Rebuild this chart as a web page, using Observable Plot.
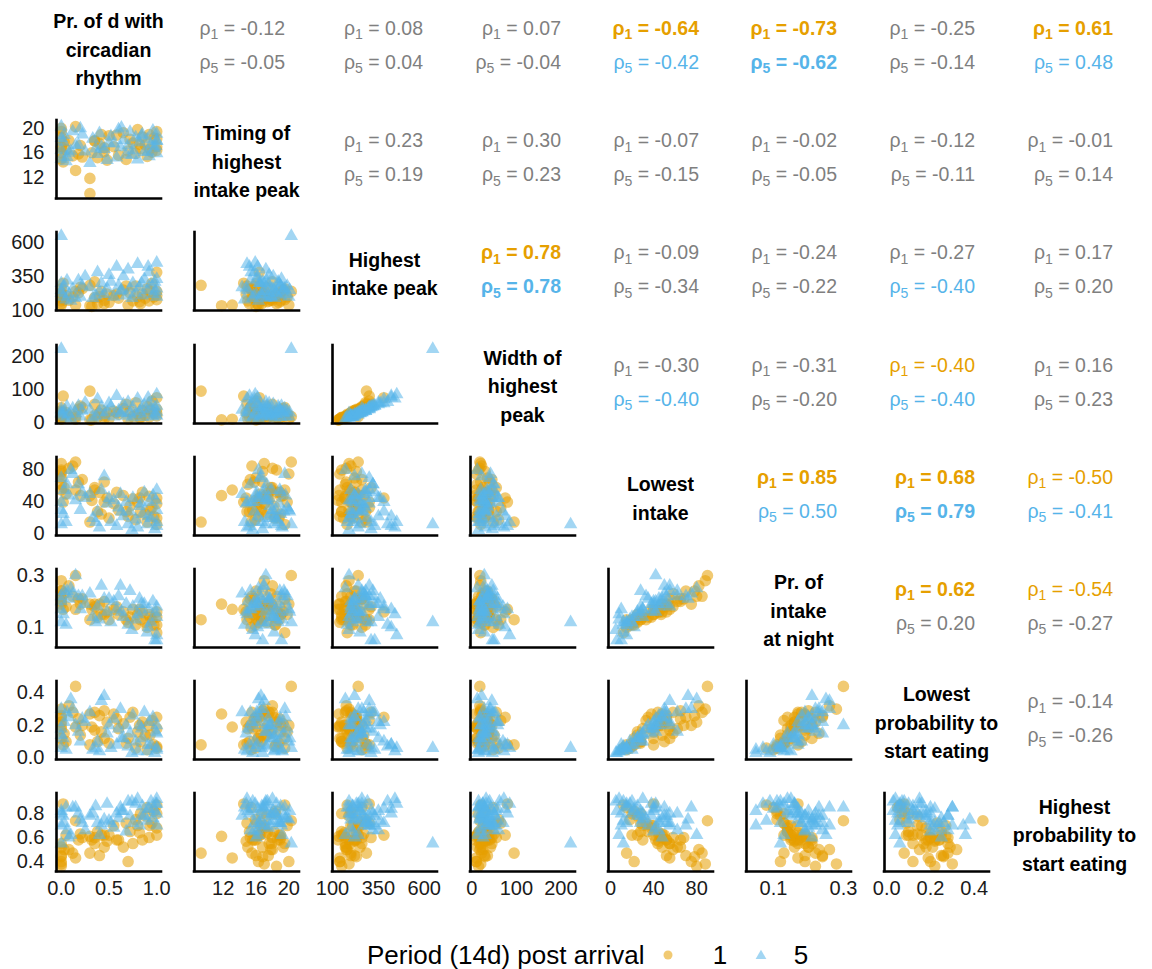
<!DOCTYPE html>
<html>
<head>
<meta charset="utf-8">
<script src="https://cdn.jsdelivr.net/npm/d3@7"></script>
<script src="https://cdn.jsdelivr.net/npm/@observablehq/plot@0.6"></script>
<style>
  body { margin: 0; background: #fff; font-family: "Liberation Sans", Arial, sans-serif; }
  #chart { position: relative; width: 1152px; height: 969px; overflow: hidden; background: #fff; }
  .diag { position: absolute; display: flex; flex-direction: column; justify-content: center; align-items: center;
          text-align: center; font-weight: bold; font-size: 19.5px; line-height: 28.5px; color: #000; white-space: nowrap; }
  .rho { position: absolute; text-align: right; font-size: 19.5px; line-height: 30px; height: 30px; white-space: nowrap; }
  .rho .sub { font-size: 0.72em; position: relative; top: 0.32em; }
  .legend { position: absolute; font-size: 26px; line-height: 30px; color: #000; white-space: nowrap; }
</style>
</head>
<body>
<div id="chart"></div>
<script>
// ---- Variables shown on the diagonal -------------------------------------
const varLabels = [
  ["Pr. of d with", "circadian", "rhythm"],
  ["Timing of", "highest", "intake peak"],
  ["Highest", "intake peak"],
  ["Width of", "highest", "peak"],
  ["Lowest", "intake"],
  ["Pr. of", "intake", "at night"],
  ["Lowest", "probability to", "start eating"],
  ["Highest", "probability to", "start eating"]
];

// ---- Period 1 observations (one value per animal) -------------------------
const circ1   = [0.00,0.00,0.00,0.00,0.00,0.00,0.02,0.03,0.05,0.12,0.15,0.15,0.18,0.20,0.30,0.30,0.32,0.35,0.38,0.40,0.42,0.45,0.48,0.50,0.55,0.60,0.65,0.70,0.72,0.75,0.78,0.80,0.83,0.85,0.88,0.90,0.92,0.95,0.97,1.00,1.00,1.00,
                 0.00,0.08,0.22,0.35,0.45,0.58,0.68,0.82,0.93,1.00];
const timing1 = [17.0,18.5,16.0,15.0,19.5,20.0,14.5,17.8,16.5,15.5,20.3,13.1,15.8,17.2,9.3,11.8,16.0,18.0,15.2,17.5,19.0,16.8,14.8,18.8,17.0,15.6,19.3,16.3,18.2,17.6,15.9,19.8,16.7,18.6,17.3,15.4,19.0,16.1,18.4,17.0,19.5,16.4,
                 16.8,18.0,15.3,17.9,16.2,18.9,14.9,17.4,16.6,18.3];
const peak1   = [190,150,220,170,260,140,300,180,210,200,240,140,230,270,285,135,130,310,150,200,240,175,220,160,210,190,250,140,230,170,280,200,150,220,190,260,170,300,200,240,180,380,
                 230,175,260,195,150,220,280,165,240,210];
const width1  = [20,15,35,12,45,10,80,25,30,22,18,10,40,50,95,8,8,55,16,28,38,20,30,12,35,25,42,10,33,18,60,26,14,36,22,48,16,65,30,40,20,75,
                 30,18,45,22,12,30,55,15,38,28];
const low1    = [88,80,70,62,55,75,40,58,50,85,90,55,65,48,15,48,42,58,28,52,25,65,45,20,38,30,48,22,35,44,18,40,28,52,25,15,47,33,22,38,12,45,
                 78,82,68,55,40,52,28,45,30,20];
const night1  = [0.28,0.22,0.24,0.20,0.21,0.19,0.17,0.23,0.18,0.22,0.30,0.17,0.21,0.19,0.13,0.19,0.17,0.18,0.14,0.19,0.15,0.20,0.16,0.13,0.17,0.15,0.16,0.12,0.14,0.17,0.11,0.15,0.13,0.16,0.12,0.10,0.15,0.13,0.11,0.14,0.08,0.16,
                 0.24,0.26,0.21,0.19,0.15,0.18,0.13,0.17,0.14,0.11];
const lowp1   = [0.30,0.22,0.25,0.18,0.12,0.20,0.08,0.15,0.10,0.28,0.44,0.19,0.24,0.14,0.08,0.27,0.19,0.28,0.10,0.26,0.16,0.29,0.22,0.09,0.27,0.18,0.21,0.12,0.25,0.28,0.06,0.16,0.10,0.22,0.14,0.05,0.20,0.23,0.08,0.18,0.06,0.25,
                 0.26,0.32,0.20,0.17,0.12,0.24,0.09,0.20,0.14,0.07];
const highp1  = [0.38,0.36,0.45,0.52,0.55,0.40,0.88,0.50,0.62,0.47,0.74,0.43,0.58,0.63,0.47,0.61,0.58,0.60,0.65,0.45,0.62,0.52,0.57,0.62,0.70,0.58,0.52,0.40,0.65,0.55,0.75,0.70,0.80,0.58,0.78,0.85,0.60,0.72,0.82,0.68,0.87,0.62,
                 0.44,0.50,0.60,0.55,0.62,0.58,0.72,0.64,0.70,0.80];

// ---- Period 5 observations ------------------------------------------------
const circ5   = [0.00,0.00,0.00,0.02,0.03,0.05,0.08,0.12,0.15,0.18,0.20,0.25,0.30,0.33,0.38,0.40,0.42,0.45,0.48,0.52,0.55,0.58,0.60,0.62,0.65,0.68,0.70,0.72,0.75,0.78,0.80,0.82,0.85,0.87,0.90,0.92,0.94,0.96,0.98,1.00,1.00,1.00,1.00,0.10,
                 0.00,0.06,0.22,0.36,0.50,0.63,0.74,0.84,0.91,0.99];
const timing5 = [20.3,16.5,15.0,17.8,18.9,14.6,16.0,19.5,17.2,17.3,20.0,16.2,14.3,18.3,15.8,19.2,17.0,16.6,14.8,18.7,17.5,15.2,19.8,16.9,18.1,15.7,17.2,19.4,16.4,18.5,14.9,17.7,19.0,16.1,18.2,15.4,17.4,19.6,16.8,18.0,15.9,17.9,19.1,16.3,
                 18.4,15.3,19.0,16.7,17.6,20.1,15.6,18.8,16.2,17.1];
const peak5   = [646,300,250,200,280,180,220,260,190,320,200,350,270,190,380,240,300,220,260,310,200,420,280,240,350,210,400,260,300,230,440,270,210,330,250,380,290,220,310,260,450,200,330,170,
                 230,320,280,210,360,250,190,300,420,240];
const width5  = [222,40,30,20,35,15,25,42,28,50,18,60,38,14,70,30,45,22,32,48,18,80,36,28,55,20,62,30,45,25,72,34,16,52,28,58,40,18,46,32,85,20,50,12,
                 26,48,35,18,58,30,15,42,75,24];
const low5    = [12,70,40,25,55,15,48,75,42,62,30,45,50,20,28,8,55,72,38,15,42,10,33,50,22,40,12,28,45,18,8,35,25,52,12,40,20,48,6,30,15,55,10,80,
                 30,62,52,15,45,28,5,38,22,42];
const night5  = [0.12,0.22,0.20,0.15,0.24,0.11,0.21,0.23,0.30,0.22,0.17,0.19,0.23,0.14,0.18,0.13,0.26,0.21,0.16,0.12,0.20,0.17,0.22,0.26,0.14,0.19,0.11,0.24,0.18,0.13,0.15,0.21,0.16,0.19,0.08,0.17,0.12,0.20,0.05,0.14,0.07,0.18,0.05,0.25,
                 0.17,0.24,0.22,0.12,0.21,0.16,0.09,0.19,0.10,0.16];
const lowp5   = [0.06,0.30,0.18,0.12,0.22,0.05,0.25,0.30,0.20,0.16,0.10,0.22,0.28,0.05,0.10,0.04,0.35,0.38,0.15,0.06,0.24,0.08,0.18,0.30,0.12,0.20,0.07,0.15,0.26,0.10,0.04,0.20,0.12,0.28,0.04,0.22,0.08,0.25,0.03,0.15,0.06,0.20,0.05,0.36,
                 0.14,0.28,0.24,0.06,0.20,0.12,0.03,0.18,0.08,0.16];
const highp5  = [0.55,0.70,0.82,0.78,0.72,0.85,0.60,0.85,0.85,0.80,0.75,0.66,0.78,0.80,0.72,0.62,0.70,0.75,0.88,0.72,0.68,0.80,0.76,0.85,0.82,0.65,0.90,0.78,0.72,0.88,0.92,0.70,0.86,0.78,0.74,0.84,0.90,0.76,0.82,0.92,0.88,0.80,0.70,0.62,
                 0.80,0.66,0.72,0.86,0.74,0.82,0.90,0.78,0.84,0.88];

// ---- Spearman correlations (upper triangle, row by row) --------------------
// significance: 0 = not significant (grey), 1 = significant (coloured), 2 = strongly significant (coloured, bold)
const rho1 = [-0.12, 0.08, 0.07, -0.64, -0.73, -0.25, 0.61,
               0.23, 0.30, -0.07, -0.02, -0.12, -0.01,
               0.78, -0.09, -0.24, -0.27, 0.17,
              -0.30, -0.31, -0.40, 0.16,
               0.85, 0.68, -0.50,
               0.62, -0.54,
              -0.14];
const sig1 = [0,0,0,2,2,0,2, 0,0,0,0,0,0, 2,0,0,0,0, 0,0,1,0, 2,2,1, 2,1, 0];
const rho5 = [-0.05, 0.04, -0.04, -0.42, -0.62, -0.14, 0.48,
               0.19, 0.23, -0.15, -0.05, -0.11, 0.14,
               0.78, -0.34, -0.22, -0.40, 0.20,
              -0.40, -0.20, -0.40, 0.23,
               0.50, 0.79, -0.41,
               0.20, -0.27,
              -0.26];
const sig5 = [0,0,0,1,2,0,1, 0,0,0,0,0,0, 2,0,0,1,0, 1,0,1,0, 1,2,1, 0,0, 0];

// ---- Axis ticks for each variable -----------------------------------------
const tickValues = [[0, 0.5, 1], [12, 16, 20], [100, 350, 600], [0, 100, 200], [0, 40, 80], [0.1, 0.3], [0, 0.2, 0.4], [0.4, 0.6, 0.8]];
const tickFormats = [".1f", "d", "d", "d", "d", ".1f", ".1f", ".1f"];
// scale extents (data range plus a small margin)
const domains = [[-0.05, 1.05], [8.5, 21.3], [100, 672], [-3, 233], [-1.8, 95.6], [0.023, 0.323], [-0.01, 0.47], [0.317, 0.967]];

// ---- Styling ---------------------------------------------------------------
const orange = "#E69F00", blue = "#56B4E9", grey = "#7f7f7f";
const FONT = "'Liberation Sans', Arial, sans-serif";

// ---- Layout of the 8 x 8 grid ----------------------------------------------
const PW = 105, PH = 78;
const colLeft = c => 56 + 138 * c;
const rowTop = r => 8 + 112.2 * r;

// one row per animal and period, interleaved as in the source table
const series1 = [circ1, timing1, peak1, width1, low1, night1, lowp1, highp1];
const series5 = [circ5, timing5, peak5, width5, low5, night5, lowp5, highp5];
const obs = [];
for (let i = 0; i < Math.max(circ1.length, circ5.length); i++) {
  if (i < circ1.length) obs.push({period: "1", v: series1.map(s => s[i])});
  if (i < circ5.length) obs.push({period: "5", v: series5.map(s => s[i])});
}

const chart = document.getElementById("chart");

// scatter panels (lower triangle)
for (let r = 1; r < 8; r++) {
  for (let c = 0; c < r; c++) {
    const mL = c === 0 ? 56 : 6, mB = r === 7 ? 36 : 6, mT = 8, mR = 8;
    const svg = Plot.plot({
      width: PW + mL + mR,
      height: PH + mT + mB,
      marginLeft: mL, marginRight: mR, marginTop: mT, marginBottom: mB,
      style: {background: "transparent", overflow: "visible", fontSize: "20px", fontFamily: FONT, color: "#1a1a1a"},
      x: {domain: domains[c], axis: r === 7 ? "bottom" : null, ticks: tickValues[c],
          tickFormat: d3.format(tickFormats[c]), tickSize: 0, tickPadding: 9, label: null},
      y: {domain: domains[r], axis: c === 0 ? "left" : null, ticks: tickValues[r],
          tickFormat: d3.format(tickFormats[r]), tickSize: 0, tickPadding: 12, label: null},
      color: {domain: ["1", "5"], range: [orange, blue]},
      symbol: {domain: ["1", "5"], range: ["circle", "triangle"]},
      r: {type: "linear", domain: [0, 10], range: [0, 10]},
      marks: [
        Plot.dot(obs, {
          x: d => d.v[c], y: d => d.v[r],
          fill: "period", symbol: "period",
          r: d => d.period === "1" ? 5.8 : 5.0,
          fillOpacity: 0.55, stroke: "none"
        }),
        Plot.ruleX([domains[c][0]], {stroke: "#000", strokeWidth: 2.6, strokeLinecap: "square"}),
        Plot.ruleY([domains[r][0]], {stroke: "#000", strokeWidth: 2.6, strokeLinecap: "square"})
      ]
    });
    svg.style.position = "absolute";
    svg.style.left = (colLeft(c) - mL) + "px";
    svg.style.top = (rowTop(r) - mT) + "px";
    chart.appendChild(svg);
  }
}

// variable names (diagonal)
varLabels.forEach((lines, i) => {
  const div = document.createElement("div");
  div.className = "diag";
  div.style.left = (colLeft(i) + PW / 2 - 90) + "px";
  div.style.width = "180px";
  div.style.top = (rowTop(i) + 42 - 50) + "px";
  div.style.height = "100px";
  lines.forEach(t => {
    const s = document.createElement("div");
    s.textContent = t;
    div.appendChild(s);
  });
  chart.appendChild(div);
});

// correlation coefficients (upper triangle)
function rhoLine(sub, value, sig, colour, left, centerY) {
  const div = document.createElement("div");
  div.className = "rho";
  div.style.left = (left - 170) + "px";
  div.style.width = "170px";
  div.style.top = (centerY - 15) + "px";
  div.style.color = sig === 0 ? grey : colour;
  div.style.fontWeight = sig === 2 ? "bold" : "normal";
  div.innerHTML = `ρ<span class="sub">${sub}</span> = ${value.toFixed(2)}`;
  chart.appendChild(div);
}
let k = 0;
for (let r = 0; r < 8; r++) {
  for (let c = r + 1; c < 8; c++) {
    rhoLine("1", rho1[k], sig1[k], orange, colLeft(c) + 91, rowTop(r) + 20);
    rhoLine("5", rho5[k], sig5[k], blue, colLeft(c) + 91, rowTop(r) + 54);
    k++;
  }
}

// legend below the grid
const legendTitle = "Period (14d) post arrival";
const legendKeys = ["1", "5"];
const title = document.createElement("div");
title.className = "legend";
title.style.left = "367px";
title.style.top = "940px";
title.textContent = legendTitle;
chart.appendChild(title);

const ns = "http://www.w3.org/2000/svg";
const lsvg = document.createElementNS(ns, "svg");
lsvg.setAttribute("width", "200");
lsvg.setAttribute("height", "30");
lsvg.style.position = "absolute";
lsvg.style.left = "655px";
lsvg.style.top = "940px";
const circ = document.createElementNS(ns, "circle");
circ.setAttribute("cx", "13"); circ.setAttribute("cy", "15"); circ.setAttribute("r", "4.5");
circ.setAttribute("fill", orange); circ.setAttribute("fill-opacity", "0.55");
lsvg.appendChild(circ);
const tri = document.createElementNS(ns, "path");
tri.setAttribute("d", d3.symbol(d3.symbolTriangle, 50)());
tri.setAttribute("transform", "translate(106,16)");
tri.setAttribute("fill", blue); tri.setAttribute("fill-opacity", "0.55");
lsvg.appendChild(tri);
chart.appendChild(lsvg);

[[legendKeys[0], 720], [legendKeys[1], 801]].forEach(([t, x]) => {
  const d = document.createElement("div");
  d.className = "legend";
  d.style.left = (x - 8) + "px";
  d.style.width = "16px";
  d.style.textAlign = "center";
  d.style.top = "940px";
  d.textContent = t;
  chart.appendChild(d);
});
</script>
</body>
</html>
